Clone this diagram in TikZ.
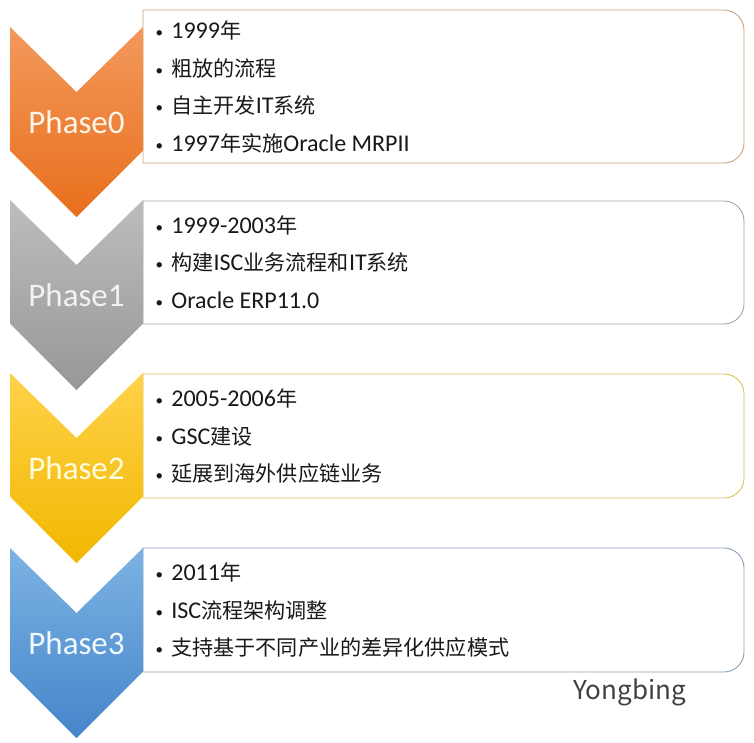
\documentclass[tikz,border=0pt]{standalone}
\usepackage{fontspec}
\setmainfont{Carlito}
\newfontfamily\cjk[Scale=0.88]{Noto Sans CJK SC}
\newfontfamily\signfont{Noto Sans CJK SC}

\definecolor{orangetop}{HTML}{F3995C}
\definecolor{orangebot}{HTML}{E86F1C}
\definecolor{graytop}{HTML}{BDBDBD}
\definecolor{graybot}{HTML}{979797}
\definecolor{yellowtop}{HTML}{FFD24A}
\definecolor{yellowbot}{HTML}{F2B700}
\definecolor{bluetop}{HTML}{7DB3E3}
\definecolor{bluebot}{HTML}{4585CA}
\definecolor{orangeline}{HTML}{C9A27E}
\definecolor{grayline}{HTML}{A3A3A3}
\definecolor{yellowline}{HTML}{D9C25A}
\definecolor{blueline}{HTML}{8A9EB3}

\newcommand\itm{\raisebox{1pt}{\fontsize{15}{15}\selectfont •}\hspace{8.2pt}}

\tikzset{
  boxline/.style={draw=#1, fill=white, line width=0.9pt},
  phase/.style={text=#1, font=\fontsize{33}{33}\selectfont},
  item/.style={anchor=base west, inner sep=0pt, text=black!90,
    font=\fontsize{24}{24}\selectfont},
}

\begin{document}
\begin{tikzpicture}[x=1pt, y=-1pt]
\useasboundingbox (0,0) rectangle (754,742);

% boxes
\foreach \t/\b/\c in {10/163/orangeline, 201/324/grayline, 374/498/yellowline, 548/672/blueline}
{
\draw [boxline=\c] (143,\b) -- (143,\t) -- (300,\t) [rounded corners=20pt] -- (744,\t) -- (744,\b) -- (300,\b) [sharp corners] -- cycle;
}

% chevrons
\foreach \y/\c in {27/orange, 200/gray, 373/yellow, 548/blue}
{
\shade [top color=\c top, bottom color=\c bot] (10,\y) -- (76.5,\y+65) -- (143,\y) -- (143,\y+123.5) -- (76.5,\y+190) -- (10,\y+123.5) -- cycle;
}

\node [phase=orange!8!white] (ph0) at (76.5,122) {Phase0};
\node [phase=white!95!black] (ph1) at (76.5,295) {Phase1};
\node [phase=yellow!12!white] (ph2) at (76.5,468) {Phase2};
\node [phase=cyan!6!white] (ph3) at (76.5,643) {Phase3};

% phase 0
\node [item] (p0a) at (155.5,38) {\itm 1999{\cjk 年}};
\node [item] (p0b) at (155.5,76) {\itm {\cjk 粗放的流程}};
\node [item] (p0c) at (155.5,113.5) {\itm {\cjk 自主开发}IT{\cjk 系统}};
\node [item] (p0d) at (155.5,151) {\itm 1997{\cjk 年实施}Oracle MRPII};

% phase 1
\node [item] (p1a) at (155.5,233) {\itm 1999-2003{\cjk 年}};
\node [item] (p1b) at (155.5,270.5) {\itm {\cjk 构建}ISC{\cjk 业务流程和}IT{\cjk 系统}};
\node [item] (p1c) at (155.5,308) {\itm Oracle ERP11.0};

% phase 2
\node [item] (p2a) at (155.5,406.5) {\itm 2005-2006{\cjk 年}};
\node [item] (p2b) at (155.5,444) {\itm GSC{\cjk 建设}};
\node [item] (p2c) at (155.5,481.5) {\itm {\cjk 延展到海外供应链业务}};

% phase 3
\node [item] (p3a) at (155.5,580.5) {\itm 2011{\cjk 年}};
\node [item] (p3b) at (155.5,618) {\itm ISC{\cjk 流程架构调整}};
\node [item] (p3c) at (155.5,655.5) {\itm {\cjk 支持基于不同产业的差异化供应模式}};

\node [anchor=base west, inner sep=0pt, text=black!75, font=\signfont\fontsize{26}{26}\selectfont] (sign) at (573,699) {Yongbing};
\end{tikzpicture}
\end{document}
